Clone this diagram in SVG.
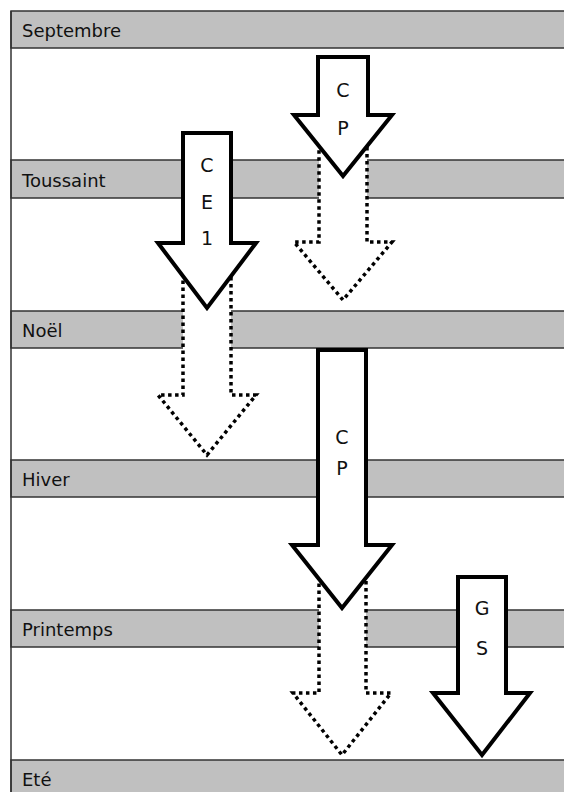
<svg xmlns="http://www.w3.org/2000/svg" width="564" height="792" viewBox="0 0 564 792">
<style>
.band{fill:#c0c0c0;stroke:#333;stroke-width:1.5}
.lbl{font-family:"DejaVu Sans",sans-serif;font-size:18px;fill:#111}
.solid{fill:#fff;stroke:#000;stroke-width:4;stroke-linejoin:miter}
.dash{fill:#fff;stroke:#000;stroke-width:3.5;stroke-dasharray:3.5 3.5}
.let{font-family:"DejaVu Sans",sans-serif;font-size:19px;fill:#111;text-anchor:middle}
</style>
<rect width="564" height="792" fill="#fff"/>
<g id="septembre"><rect class="band" x="11" y="11" width="560" height="37"/><text class="lbl" x="22" y="37">Septembre</text></g>
<g id="toussaint"><rect class="band" x="11" y="160" width="560" height="38"/><text class="lbl" x="22" y="187">Toussaint</text></g>
<g id="noel"><rect class="band" x="11" y="311" width="560" height="37"/><text class="lbl" x="22" y="337">Noël</text></g>
<g id="hiver"><rect class="band" x="11" y="460" width="560" height="37"/><text class="lbl" x="22" y="486">Hiver</text></g>
<g id="printemps"><rect class="band" x="11" y="610" width="560" height="37"/><text class="lbl" x="22" y="636">Printemps</text></g>
<g id="ete"><rect class="band" x="11" y="760" width="560" height="40"/><text class="lbl" x="22" y="786">Eté</text></g>
<line x1="11" y1="11" x2="11" y2="792" stroke="#333" stroke-width="1.5"/>
<g id="connectors">
<g id="cp1-dashed"><path class="dash" d="M319 125 H367 V242 H392 L343 300 L294 242 H319 Z"/></g>
<g id="cp1"><path class="solid" d="M318 57 H368 V115 H392 L343 176 L294 115 H318 Z"/><text class="let" x="343" y="97">C</text><text class="let" x="343" y="135">P</text></g>
<g id="ce1-dashed"><path class="dash" d="M183 262 H231 V395 H256 L207 455 L158 395 H183 Z"/></g>
<g id="ce1"><path class="solid" d="M183 133 H231 V243 H256 L207 308 L158 243 H183 Z"/><text class="let" x="207" y="172">C</text><text class="let" x="207" y="209">E</text><text class="let" x="207" y="245">1</text></g>
<g id="cp2-dashed"><path class="dash" d="M319 565 H366 V693 H391 L342 755 L293 693 H319 Z"/></g>
<g id="cp2"><path class="solid" d="M318 350 H366 V545 H392 L342 608 L292 545 H318 Z"/><text class="let" x="342" y="444">C</text><text class="let" x="342" y="475">P</text></g>
<g id="gs"><path class="solid" d="M458 577 H506 V693 H530 L482 755 L433 693 H458 Z"/><text class="let" x="482" y="615">G</text><text class="let" x="482" y="655">S</text></g>
</g>
</svg>
